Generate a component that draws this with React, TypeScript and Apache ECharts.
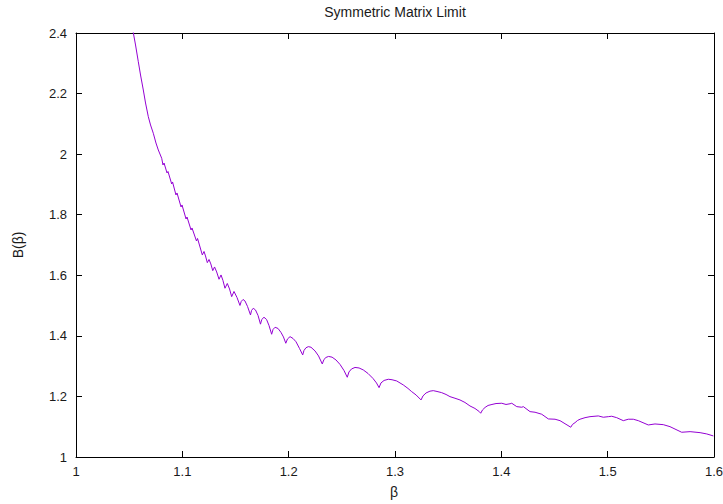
import React, { useEffect, useRef } from "react";
import * as echarts from "echarts";

const betaValues: number[] = [
  1.0536, 1.056, 1.0586, 1.0607, 1.0633, 1.0654, 1.068, 1.0701, 1.0727, 1.0752,
  1.0774, 1.0806, 1.0818, 1.0828, 1.0856, 1.0865, 1.09, 1.0908, 1.094, 1.095,
  1.0988, 1.0997, 1.1035, 1.1044, 1.1082, 1.1091, 1.1133, 1.1143,
  1.1188, 1.1204, 1.1218, 1.1235, 1.1251, 1.1268, 1.1286, 1.1303, 1.1323,
  1.1345, 1.1364, 1.1382, 1.1401, 1.1423, 1.1444, 1.1464, 1.1486, 1.1514,
  1.1542, 1.1554, 1.1571, 1.1589, 1.1613,
  1.1641, 1.1651, 1.1667, 1.1688, 1.1712,
  1.1735, 1.1747, 1.1768, 1.1792, 1.1815,
  1.184, 1.1853, 1.1872, 1.19, 1.1928, 1.1951,
  1.1973, 1.1989, 1.2013, 1.2041, 1.2069, 1.2102,
  1.2132, 1.2144, 1.2163, 1.2185, 1.221, 1.2248, 1.2281,
  1.2316, 1.2332, 1.2351, 1.2375, 1.2408, 1.2445, 1.2483, 1.252,
  1.2551, 1.2567, 1.2591, 1.2624, 1.2662, 1.2702, 1.2746, 1.2793, 1.2826,
  1.285, 1.2868, 1.2897, 1.2937, 1.2972, 1.3016, 1.3078, 1.3122, 1.3157, 1.3198,
  1.3245, 1.3263, 1.3292, 1.3329, 1.336, 1.3395, 1.3439, 1.348, 1.3517, 1.3564,
  1.3611, 1.3658, 1.3705, 1.3752, 1.3793,
  1.3806, 1.3823, 1.3847, 1.3875, 1.3912, 1.395, 1.4004, 1.4044, 1.4082, 1.4098,
  1.4145, 1.4192, 1.4207, 1.427, 1.4317, 1.438, 1.4442, 1.4505, 1.4552,
  1.4653, 1.4669, 1.4693, 1.4717, 1.474, 1.4787, 1.4834, 1.4912, 1.4959, 1.5006, 1.5038,
  1.5085, 1.5147, 1.5194, 1.5241, 1.5288, 1.5382, 1.5445, 1.5523, 1.5586,
  1.5696, 1.5775, 1.5869, 1.5932, 1.5994, 1.6,
];

const bValues: number[] = [
  2.4066, 2.3604, 2.3052, 2.2613, 2.2118, 2.1689, 2.1237, 2.0963, 2.0689, 2.0368,
  2.0137, 1.9863, 1.9642, 1.9708, 1.9378, 1.9428, 1.9015, 1.9081, 1.8652, 1.8718,
  1.8256, 1.8322, 1.7859, 1.7925, 1.7496, 1.7562, 1.7133, 1.7216,
  1.6671, 1.6786, 1.6638, 1.6417, 1.6522, 1.6374, 1.6153, 1.6275, 1.611,
  1.5869, 1.6011, 1.5829, 1.5572, 1.573, 1.5548, 1.5294, 1.5466, 1.5268,
  1.5004, 1.5136, 1.5202, 1.5152, 1.4971,
  1.469, 1.4839, 1.4911, 1.4855, 1.4674,
  1.4386, 1.4541, 1.4614, 1.4541, 1.4343,
  1.4053, 1.4211, 1.4284, 1.4244, 1.4112, 1.3964,
  1.3756, 1.3898, 1.3974, 1.3914, 1.3805, 1.3584,
  1.3369, 1.3518, 1.3607, 1.3644, 1.3624, 1.3502, 1.3337,
  1.3072, 1.3221, 1.3287, 1.332, 1.3297, 1.3204, 1.3056, 1.2858,
  1.2633, 1.2808, 1.2907, 1.2957, 1.294, 1.2874, 1.2759, 1.2594, 1.2445,
  1.229, 1.2445, 1.2528, 1.2567, 1.2551, 1.2511, 1.2379, 1.2264, 1.2158, 1.2049,
  1.1884, 1.2016, 1.2115, 1.2174, 1.2191, 1.2164, 1.2125, 1.2065, 1.1993, 1.194,
  1.1884, 1.1801, 1.1686, 1.1603, 1.1498,
  1.1445, 1.1554, 1.1636, 1.1702, 1.1735, 1.1765, 1.1775, 1.1735, 1.1758, 1.1775,
  1.1663, 1.1643, 1.1663, 1.1498, 1.1478, 1.1412, 1.1257, 1.1247, 1.12,
  1.0983, 1.1075, 1.1134, 1.1207, 1.1247, 1.1299, 1.1332, 1.1356, 1.1313, 1.1332, 1.1346,
  1.1299, 1.12, 1.1247, 1.1247, 1.12, 1.1058, 1.1091, 1.1068, 1.1002,
  1.0817, 1.0837, 1.0804, 1.0761, 1.0695, 1.069,
];

const titleText = "Symmetric Matrix Limit";
const xLabel = "β";
const yLabel = "B(β)";

const FONT = "'Liberation Sans', Arial, Helvetica, sans-serif";

const fmt = (v: number) => String(Number(v.toFixed(1)));

export default function App() {
  const ref = useRef<HTMLDivElement>(null);
  useEffect(() => {
    if (!ref.current) return;
    const chart = echarts.init(ref.current, null, { renderer: "svg" });
    const data = betaValues.map((b, i) => [b, bValues[i]]);
    const axisLine = { show: true, lineStyle: { color: "#000", width: 1 } };
    const tick = { show: true, inside: true, length: 6, lineStyle: { color: "#000", width: 1 } };
    const labelStyle = { color: "#1a1a1a", fontSize: 13, fontFamily: FONT };
    chart.setOption({
      animation: false,
      backgroundColor: "#fff",
      grid: {
        left: 76,
        right: 9,
        top: 33,
        bottom: 47,
        containLabel: false,
        outerBoundsMode: "none",
      },
      xAxis: [
        {
          type: "value",
          min: 1,
          max: 1.6,
          interval: 0.1,
          position: "bottom",
          axisLine,
          axisTick: tick,
          splitLine: { show: false },
          axisLabel: { ...labelStyle, margin: 8, formatter: fmt },
        },
        {
          type: "value",
          min: 1,
          max: 1.6,
          interval: 0.1,
          position: "top",
          axisLine,
          axisTick: tick,
          splitLine: { show: false },
          axisLabel: { show: false },
        },
      ],
      yAxis: [
        {
          type: "value",
          min: 1,
          max: 2.4,
          interval: 0.2,
          position: "left",
          axisLine,
          axisTick: tick,
          splitLine: { show: false },
          axisLabel: { ...labelStyle, margin: 9, formatter: fmt },
        },
        {
          type: "value",
          min: 1,
          max: 2.4,
          interval: 0.2,
          position: "right",
          axisLine,
          axisTick: tick,
          splitLine: { show: false },
          axisLabel: { show: false },
        },
      ],
      graphic: [
        {
          type: "text",
          x: 395,
          y: 12,
          style: {
            text: titleText,
            fill: "#1a1a1a",
            font: `14px ${FONT}`,
            align: "center",
            verticalAlign: "middle",
          },
        },
        {
          type: "text",
          x: 394,
          y: 492,
          style: {
            text: xLabel,
            fill: "#1a1a1a",
            font: `14px ${FONT}`,
            align: "center",
            verticalAlign: "middle",
          },
        },
        {
          type: "text",
          x: 18,
          y: 245,
          rotation: Math.PI / 2,
          style: {
            text: yLabel,
            fill: "#1a1a1a",
            font: `14px ${FONT}`,
            align: "center",
            verticalAlign: "middle",
          },
        },
      ],
      series: [
        {
          type: "line",
          data,
          showSymbol: false,
          symbol: "none",
          clip: true,
          lineStyle: { color: "#9400d3", width: 1 },
        },
      ],
    });
    return () => chart.dispose();
  }, []);
  return (
    <div
      ref={ref}
      style={{ position: "fixed", left: 0, top: 0, width: 723, height: 504, background: "#fff" }}
    />
  );
}
